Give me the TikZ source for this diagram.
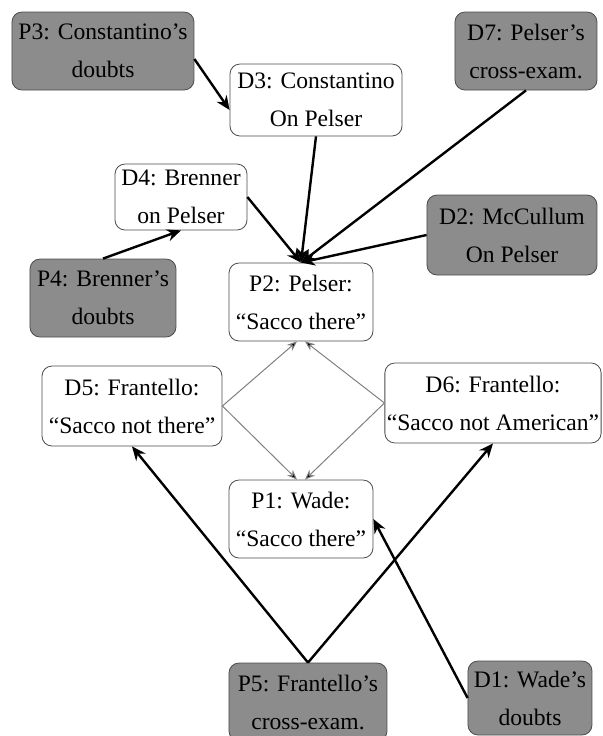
\documentclass[tikz,border=0pt]{standalone}
\usepackage{fontspec}
\setmainfont{Liberation Serif}
\usetikzlibrary{arrows.meta}
\begin{document}
\begin{tikzpicture}[x=0.5pt, y=-0.5pt,
    claim/.style={draw=black!70, rounded corners=5pt, align=center, inner sep=1pt,
      font=\fontsize{11.8}{19}\selectfont},
    pro/.style={claim, fill=black!45},
    con/.style={claim, fill=white},
    strong/.style={line width=1.2pt, -{Stealth[length=7pt,width=6pt]}},
    weak/.style={draw=black!50, line width=0.5pt, -{Stealth[length=5pt,width=4pt,fill=black]}}]
      \useasboundingbox (0,0) rectangle (603,736);

      \node[pro, minimum width=91pt, minimum height=39pt] (p3) at (103,51) {P3: Constantino's\\doubts};
      \node[con, minimum width=86pt, minimum height=36pt] (d3) at (316,100) {D3: Constantino\\On Pelser};
      \node[pro, minimum width=71pt, minimum height=39pt] (d7) at (526,51) {D7: Pelser's\\cross-exam.};
      \node[con, minimum width=66pt, minimum height=33pt] (d4) at (181,197) {D4: Brenner\\on Pelser};
      \node[pro, minimum width=85pt, minimum height=40pt] (d2) at (512,235) {D2: McCullum\\On Pelser};
      \node[pro, minimum width=73pt, minimum height=39pt] (p4) at (103,298) {P4: Brenner's\\doubts};
      \node[con, minimum width=72pt, minimum height=39pt] (p2) at (301,302) {P2: Pelser:\\``Sacco there''};
      \node[con, minimum width=90pt, minimum height=40pt] (d5) at (132,406) {D5: Frantello:\\``Sacco not there''};
      \node[con, minimum width=106pt, minimum height=40pt] (d6) at (493,403) {D6: Frantello:\\``Sacco not American''};
      \node[con, minimum width=72pt, minimum height=39pt] (p1) at (301,519) {P1: Wade:\\``Sacco there''};
      \node[pro, minimum width=79pt, minimum height=39pt] (p5) at (308,702) {P5: Frantello's\\cross-exam.};
      \node[pro, minimum width=62pt, minimum height=37pt] (d1) at (530,698) {D1: Wade's\\doubts};

      \draw[strong] ([yshift=-4pt]p3.east) -- ([yshift=-5pt]d3.west);
      \draw[strong] (p4.north) -- (d4.south);
      \foreach \src/\from in {d3/south, d7/south, d4/east, d2/west}
      \draw[strong] (\src.\from) -- (p2.north);

      \draw[weak] (d5.east) -- ([xshift=-2pt]p2.south);
      \draw[weak] (d6.west) -- ([xshift=2pt]p2.south);
      \draw[weak] (d5.east) -- ([xshift=-2pt]p1.north);
      \draw[weak] (d6.west) -- ([xshift=2pt]p1.north);

      \draw[strong] (p5.north) -- (d5.south);
      \draw[strong] (p5.north) -- (d6.south);
      \draw[strong] (d1.west) -- (p1.east);
    \end{tikzpicture}
\end{document}
